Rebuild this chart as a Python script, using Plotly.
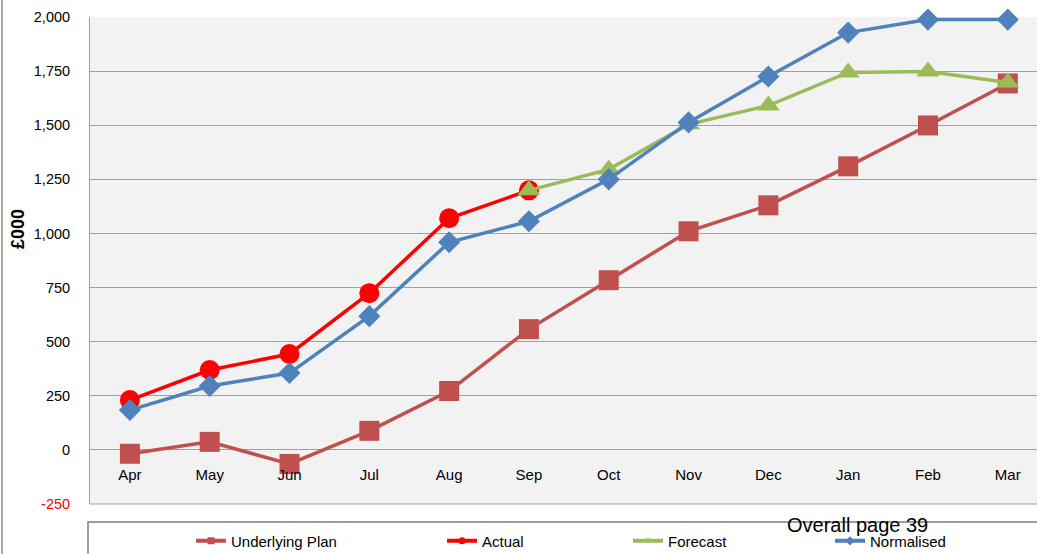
import plotly.graph_objects as go

# chart data
months = ["Apr", "May", "Jun", "Jul", "Aug", "Sep", "Oct", "Nov", "Dec", "Jan", "Feb", "Mar"]
underlying_plan = [-18, 37, -65, 88, 272, 558, 784, 1010, 1130, 1310, 1499, 1693]
actual = [230, 369, 443, 724, 1070, 1199, None, None, None, None, None, None]
forecast = [None, None, None, None, None, 1199, 1296, 1504, 1591, 1744, 1748, 1697]
normalised = [184, 295, 355, 618, 959, 1056, 1250, 1513, 1725, 1928, 1988, 1988]
ytick_vals = [-250, 0, 250, 500, 750, 1000, 1250, 1500, 1750, 2000]
ytick_text = ['<span style="color:#FF0000">-250</span>', "0", "250", "500", "750",
              "1,000", "1,250", "1,500", "1,750", "2,000"]

series = [
    ("Underlying Plan", underlying_plan, "#C0504D", "square", 20),
    ("Actual", actual, "#FF0000", "circle", 20),
    ("Forecast", forecast, "#9BBB59", "triangle-up", 20),
    ("Normalised", normalised, "#4F81BD", "diamond", 17),
]

fig = go.Figure()
for name, vals, col, sym, sz in series:
    fig.add_trace(go.Scatter(x=months, y=vals, name=name, mode="lines+markers",
                             line=dict(color=col, width=3.5),
                             marker=dict(symbol=sym, size=sz, color=col),
                             cliponaxis=False, showlegend=False))

# small legend samples, one legend each so the spacing matches
leg_x = [191, 442, 628, 830]
for i, (name, vals, col, sym, sz) in enumerate(series):
    lg = "legend" if i == 0 else "legend%d" % (i + 1)
    fig.add_trace(go.Scatter(x=[None], y=[None], name=name, mode="lines+markers",
                             line=dict(color=col, width=4),
                             marker=dict(symbol=sym, size=7, color=col),
                             legend=lg))

# the shot comes out a little squashed vertically, so lay out a slightly taller page
W, H = 1037, 558
sy = H / 554
ml, mr, mt, mb = 90, 0, round(17 * sy), round(H - 504.7 * sy)
pw, ph = W - ml - mr, H - mt - mb

def px_x(p):
    return (p - ml) / pw

def px_y(p):
    return (H - mb - p * sy) / ph

layout_legends = {}
for i, lx in enumerate(leg_x):
    key = "legend" if i == 0 else "legend%d" % (i + 1)
    layout_legends[key] = dict(x=px_x(lx), y=px_y(541.5), xanchor="left", yanchor="middle",
                               orientation="h", bgcolor="rgba(0,0,0,0)",
                               font=dict(family="Liberation Sans, Arial", size=15, color="#000"))

fig.update_layout(
    width=W, height=H,
    margin=dict(l=ml, r=mr, t=mt, b=mb),
    paper_bgcolor="white",
    plot_bgcolor="#F2F2F2",
    font=dict(family="Liberation Sans, Arial", size=14, color="#000"),
    xaxis=dict(range=[-0.5, 11.366], showgrid=False, zeroline=False, showline=False,
               anchor="free", position=250 / 2250,
               ticks="outside", ticklen=11, tickcolor="rgba(0,0,0,0)",
               tickfont=dict(size=15, color="#000")),
    yaxis=dict(range=[-250, 2000], tickvals=ytick_vals, ticktext=ytick_text,
               showgrid=True, gridcolor="#A0A0A0", gridwidth=1, zeroline=False,
               showline=True, linecolor="#A0A0A0", linewidth=1,
               ticks="outside", ticklen=16, tickcolor="rgba(0,0,0,0)",
               tickfont=dict(size=14.5, color="#000")),
    **layout_legends,
)

# bottom border of plot area, outer frame and legend box
fig.add_shape(type="line", xref="paper", yref="paper", x0=0, x1=1, y0=0, y1=0,
              line=dict(color="#A0A0A0", width=1))
fig.add_shape(type="line", xref="paper", yref="paper", x0=px_x(2), x1=px_x(2),
              y0=px_y(562), y1=px_y(-2), line=dict(color="#8C8C8C", width=1.5))
fig.add_shape(type="rect", xref="paper", yref="paper", x0=px_x(88), x1=px_x(1045),
              y0=px_y(565), y1=px_y(522.5), line=dict(color="#7F7F7F", width=1.5),
              fillcolor="white", layer="below")

fig.add_annotation(text="<b>£000</b>", xref="paper", yref="paper", x=px_x(18), y=px_y(229),
                   xanchor="center", yanchor="middle",
                   textangle=-90, showarrow=False, font=dict(size=18, color="#000"))
fig.add_annotation(text="Overall page 39", xref="paper", yref="paper", x=px_x(785), y=px_y(525),
                   xanchor="left", yanchor="middle", showarrow=False,
                   font=dict(size=20, color="#000"))

page_js = """
document.body.style.margin = '0';
"""
fig.write_html("out.html", config={"displayModeBar": False}, post_script=page_js)
